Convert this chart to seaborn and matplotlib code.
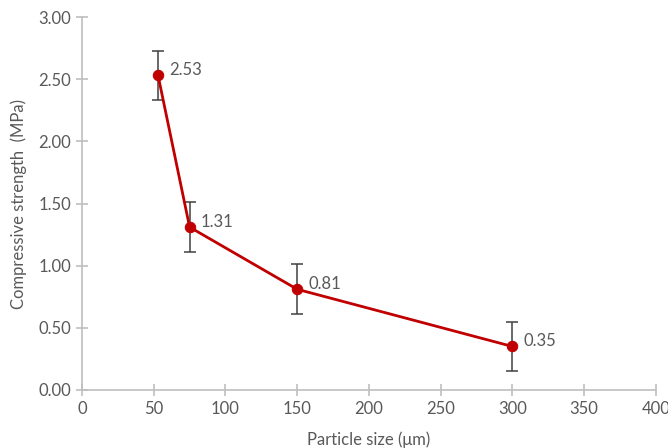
import matplotlib
matplotlib.use("Agg")
import matplotlib.pyplot as plt
import seaborn as sns
import pandas as pd

particle_size = [53, 75, 150, 300]
strength = [2.53, 1.31, 0.81, 0.35]
error = [0.2, 0.2, 0.2, 0.2]
labels = ["2.53", "1.31", "0.81", "0.35"]

sns.set_theme(style="white")
plt.rcParams['font.family'] = ['Lato', 'DejaVu Sans']

df = pd.DataFrame({"size": particle_size, "strength": strength})

fig = plt.figure(figsize=(6.68, 4.48), dpi=100)
ax = fig.add_axes([0.1228, 0.1295, 0.859, 0.8325])

red = "#C00000"
grey_txt = "#595959"
axis_col = "#BFBFBF"

ax.errorbar(particle_size, strength, yerr=error, fmt="none", ecolor="#404040",
            elinewidth=1.1, capsize=4, capthick=1.1, zorder=2)
sns.lineplot(data=df, x="size", y="strength", ax=ax, color=red, linewidth=2,
             marker="o", markersize=7.5, markeredgecolor=red, zorder=3)

for x, y, t in zip(particle_size, strength, labels):
    ax.annotate(t, (x, y), xytext=(8, 4), textcoords="offset points",
                fontsize=12, color=grey_txt, va="center", ha="left")

ax.set_xlim(0, 400)
ax.set_ylim(0, 3.0)
ax.set_xticks(range(0, 401, 50))
ax.set_yticks([0, 0.5, 1.0, 1.5, 2.0, 2.5, 3.0])
ax.set_yticklabels([f"{v:.2f}" for v in [0, 0.5, 1.0, 1.5, 2.0, 2.5, 3.0]])

for s in ["top", "right"]:
    ax.spines[s].set_visible(False)
for s in ["left", "bottom"]:
    ax.spines[s].set_color(axis_col)
    ax.spines[s].set_linewidth(1.2)

ax.tick_params(axis="both", direction="inout", length=8, width=1.2, color=axis_col,
               labelcolor=grey_txt, labelsize=12, pad=4)
ax.tick_params(axis="both", which="both", bottom=True, left=True)

ax.set_xlabel("Particle size (μm)", fontsize=12, color=grey_txt, labelpad=10)
ax.set_ylabel("Compressive strength  (MPa)", fontsize=12, color=grey_txt, labelpad=8)

fig.savefig("out.png", dpi=100)
